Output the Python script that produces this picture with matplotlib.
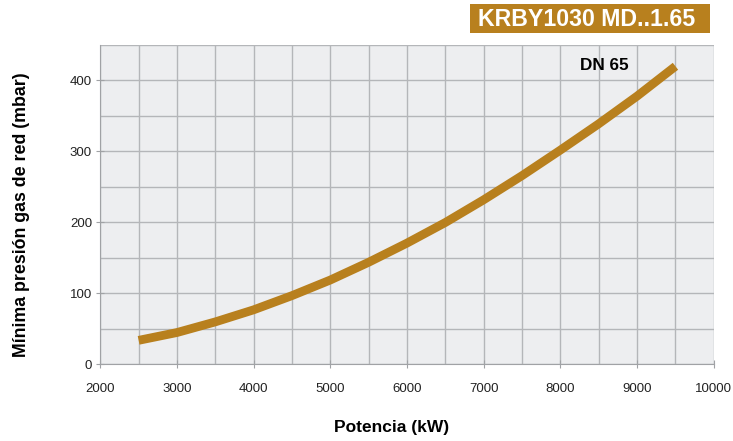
import matplotlib.pyplot as plt
import numpy as np
from matplotlib.patches import Rectangle

# data
potencia = [2500, 3000, 3500, 4000, 4500, 5000, 5500, 6000, 6500, 7000, 7500, 8000, 8500, 9000, 9500]
presion = [34, 45, 60, 77, 97, 119, 144, 171, 200, 232, 266, 302, 339, 378, 420]

x_ticks = [2000, 3000, 4000, 5000, 6000, 7000, 8000, 9000, 10000]
y_ticks = [0, 100, 200, 300, 400]

gold = '#B8801E'

plt.rcParams['font.family'] = ['Liberation Sans', 'DejaVu Sans']

fig = plt.figure(figsize=(7.33, 4.41), dpi=100)
ax = fig.add_axes([0.1368, 0.1735, 0.837, 0.7245])
ax.set_facecolor('#EDEEF0')

ax.plot(potencia, presion, color=gold, linewidth=6.3, solid_capstyle='butt',
        solid_joinstyle='round')

ax.set_xlim(2000, 10000)
ax.set_ylim(0, 450)
ax.set_xticks(x_ticks)
ax.set_yticks(y_ticks)
ax.set_xticks(np.arange(2000, 10001, 500), minor=True)
ax.set_yticks(np.arange(0, 451, 50), minor=True)
ax.grid(which='both', color='#B4B6B9', linewidth=1)
ax.set_axisbelow(True)

for s in ['top', 'right']:
    ax.spines[s].set_visible(False)
for s in ['left', 'bottom']:
    ax.spines[s].set_color('#A0A2A5')
ax.tick_params(which='major', direction='inout', length=6, color='#A0A2A5',
               labelsize=9.5, labelcolor='#222222')
ax.tick_params(axis='x', pad=10)
ax.tick_params(axis='y', pad=3)
ax.tick_params(which='minor', length=0)

ax.set_xlabel('Potencia (kW)', fontsize=12.5, fontweight='bold')
ax.set_ylabel('Mínima presión gas de red (mbar)', fontsize=12.8, fontweight='bold')
ax.xaxis.set_label_coords(0.475, -0.174)
ax.yaxis.set_label_coords(-0.115, 0.468)

ax.text(8575, 421, 'DN 65', fontsize=12.3, fontweight='bold', ha='center', va='center')

fig.add_artist(Rectangle((470 / 733, 1 - 33 / 441), 240 / 733, 29 / 441,
                         transform=fig.transFigure, facecolor=gold, edgecolor='none'))
fig.text(587 / 733, 1 - 20 / 441, 'KRBY1030 MD..1.65', fontsize=16.7, fontweight='bold',
         color='white', ha='center', va='center')

plt.savefig('out.png', dpi=100)
